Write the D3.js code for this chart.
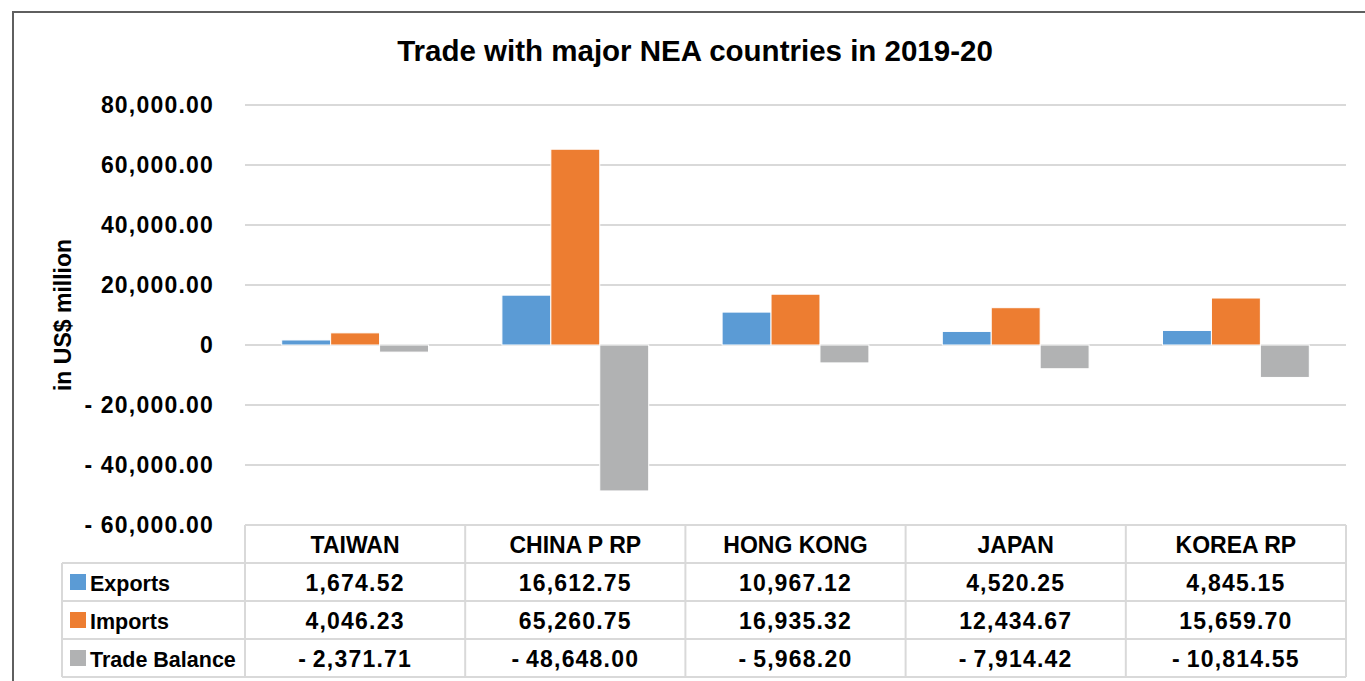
<!DOCTYPE html>
<html>
<head>
<meta charset="utf-8">
<script src="https://cdn.jsdelivr.net/npm/d3@7"></script>
<style>
  body { margin: 0; background: #fff; }
  svg text { font-family: "Liberation Sans", Arial, sans-serif; fill: #000; }
</style>
</head>
<body>
<div class="container"></div>
<script>
'use strict';

// chart data
var categories = ['TAIWAN', 'CHINA P RP', 'HONG KONG', 'JAPAN', 'KOREA RP'];
var seriesNames = ['Exports', 'Imports', 'Trade Balance'];
var exportsVals = [1674.52, 16612.75, 10967.12, 4520.25, 4845.15];
var importsVals = [4046.23, 65260.75, 16935.32, 12434.67, 15659.70];
var balanceVals = [-2371.71, -48648.00, -5968.20, -7914.42, -10814.55];
var yTicks = [80000, 60000, 40000, 20000, 0, -20000, -40000, -60000];
var colors = ['#5b9bd5', '#ed7d31', '#b1b2b3'];

var series = [exportsVals, importsVals, balanceVals];

var width = 1365, height = 681;
var plot = { left: 245, right: 1346, top: 105, bottom: 525 };
var rowH = 38;

var svg = d3.select('.container').append('svg')
  .attr('width', width)
  .attr('height', height);

// outer frame
svg.append('rect')
  .attr('x', 13).attr('y', 12)
  .attr('width', 1370).attr('height', 700)
  .attr('fill', 'none')
  .attr('stroke', '#5f5f5f')
  .attr('stroke-width', 2);

var x0 = d3.scaleBand()
  .domain(categories)
  .range([plot.left, plot.right]);

var x1 = d3.scaleBand()
  .domain(seriesNames)
  .range([0, x0.bandwidth()])
  .paddingOuter(0.75)
  .paddingInner(0);

var y = d3.scaleLinear()
  .domain([-60000, 80000])
  .range([plot.bottom, plot.top]);

function fmt(v, sep) {
  var s = d3.format(',.2f')(Math.abs(v));
  return v < 0 ? '-' + sep + s : s;
}

// gridlines
svg.append('g')
  .selectAll('line')
  .data(yTicks)
  .join('line')
  .attr('x1', plot.left).attr('x2', plot.right)
  .attr('y1', function(d) { return y(d); })
  .attr('y2', function(d) { return y(d); })
  .attr('stroke', '#d9d9d9')
  .attr('stroke-width', 2);

// y axis labels
svg.append('g')
  .selectAll('text')
  .data(yTicks)
  .join('text')
  .attr('x', 214)
  .attr('y', function(d) { return y(d); })
  .attr('dy', '0.35em')
  .attr('text-anchor', 'end')
  .style('font-size', '23px')
  .style('font-weight', 'bold')
  .style('letter-spacing', '1.2px')
  .text(function(d) { return d === 0 ? '0' : fmt(d, ' '); });

svg.append('text')
  .attr('transform', 'translate(71,' + 315 + ') rotate(-90)')
  .attr('text-anchor', 'middle')
  .style('font-size', '23px')
  .style('font-weight', 'bold')
  .text('in US$ million');

// title
svg.append('text')
  .attr('x', 695).attr('y', 61)
  .attr('text-anchor', 'middle')
  .style('font-size', '29.5px')
  .style('font-weight', 'bold')
  .text('Trade with major NEA countries in 2019-20');

// bars
var groups = svg.append('g')
  .selectAll('g')
  .data(series)
  .join('g')
  .attr('fill', function(d, i) { return colors[i]; });

groups.selectAll('rect')
  .data(function(d, i) {
    return d.map(function(v, j) { return { cat: categories[j], name: seriesNames[i], v: v }; });
  })
  .join('rect')
  .attr('x', function(d) { return x0(d.cat) + x1(d.name); })
  .attr('width', x1.bandwidth())
  .attr('y', function(d) { return y(Math.max(0, d.v)); })
  .attr('height', function(d) { return Math.abs(y(d.v) - y(0)); })
  .attr('stroke', '#fff')
  .attr('stroke-width', 1);

// data table
var table = svg.append('g');
var legendLeft = 62;
var tTop = plot.bottom;
var tBottom = tTop + rowH * 4;

// horizontal lines
table.append('line')
  .attr('x1', plot.left).attr('x2', plot.right)
  .attr('y1', tTop).attr('y2', tTop);
table.selectAll('.hrow')
  .data(d3.range(1, 5))
  .join('line')
  .attr('class', 'hrow')
  .attr('x1', legendLeft).attr('x2', plot.right)
  .attr('y1', function(d) { return tTop + d * rowH; })
  .attr('y2', function(d) { return tTop + d * rowH; });

// vertical lines
table.append('line')
  .attr('x1', legendLeft).attr('x2', legendLeft)
  .attr('y1', tTop + rowH).attr('y2', tBottom);
table.selectAll('.vcol')
  .data(categories.concat(['end']))
  .join('line')
  .attr('class', 'vcol')
  .attr('x1', function(d) { return d === 'end' ? plot.right : x0(d); })
  .attr('x2', function(d) { return d === 'end' ? plot.right : x0(d); })
  .attr('y1', tTop).attr('y2', tBottom);

table.selectAll('line')
  .attr('stroke', '#d9d9d9')
  .attr('stroke-width', 2);

// header
table.selectAll('.hdr')
  .data(categories)
  .join('text')
  .attr('class', 'hdr')
  .attr('x', function(d) { return x0(d) + x0.bandwidth() / 2; })
  .attr('y', tTop + rowH / 2 + 1)
  .attr('dy', '0.35em')
  .attr('text-anchor', 'middle')
  .style('font-size', '23px')
  .style('font-weight', 'bold')
  .text(function(d) { return d; });

// legend cells
var legendRows = table.selectAll('.lrow')
  .data(seriesNames)
  .join('g')
  .attr('class', 'lrow')
  .attr('transform', function(d, i) { return 'translate(0,' + (tTop + (i + 1) * rowH) + ')'; });

legendRows.append('rect')
  .attr('x', 70).attr('y', rowH / 2 - 8)
  .attr('width', 16).attr('height', 16)
  .attr('fill', function(d, i) { return colors[i]; });

legendRows.append('text')
  .attr('x', 90).attr('y', rowH / 2 + 1)
  .attr('dy', '0.35em')
  .style('font-size', '21.5px')
  .style('font-weight', 'bold')
  .text(function(d) { return d; });

// values
legendRows.selectAll('.val')
  .data(function(d, i) { return series[i]; })
  .join('text')
  .attr('class', 'val')
  .attr('x', function(d, j) { return x0(categories[j]) + x0.bandwidth() / 2; })
  .attr('y', rowH / 2 + 1)
  .attr('dy', '0.35em')
  .attr('text-anchor', 'middle')
  .style('font-size', '23px')
  .style('font-weight', 'bold')
  .style('letter-spacing', '1.2px')
  .text(function(d) { return fmt(d, '\u2009'); });
</script>
</body>
</html>
